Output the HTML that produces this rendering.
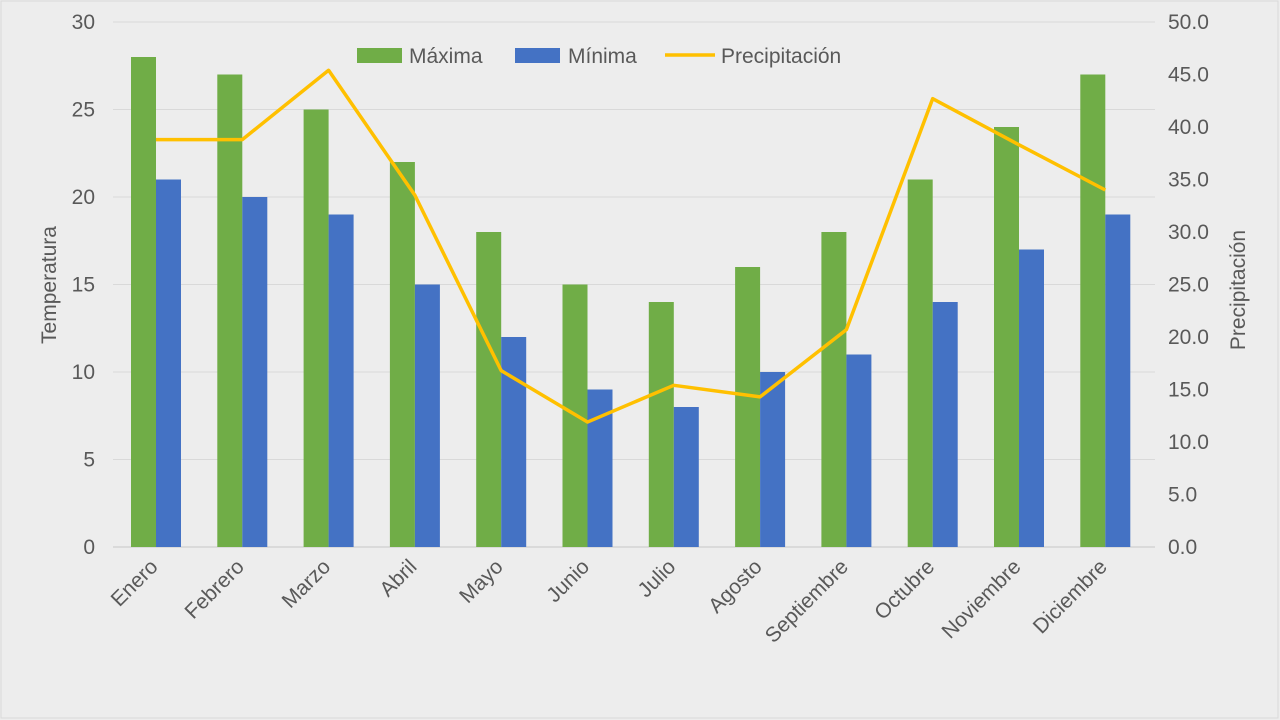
<!DOCTYPE html>
<html><head><meta charset="utf-8"><style>
body{margin:0;background:#ededed;}
svg{display:block;font-family:"Liberation Sans",Arial,sans-serif;}
</style></head><body>
<svg id="c" width="1280" height="720">
<rect x="1" y="1" width="1277" height="717" fill="#ededed" stroke="#d9d9d9"/>
</svg>
<script>
const categories=["Enero","Febrero","Marzo","Abril","Mayo","Junio","Julio","Agosto","Septiembre","Octubre","Noviembre","Diciembre"];
const maxima=[28,27,25,22,18,15,14,16,18,21,24,27];
const minima=[21,20,19,15,12,9,8,10,11,14,17,19];
const precip=[38.8,38.8,45.4,33.5,16.8,11.9,15.4,14.3,20.7,42.7,38.3,34.0];
const leftTicks=[0,5,10,15,20,25,30];
const rightTicks=[0,5,10,15,20,25,30,35,40,45,50];
const svg=document.getElementById('c');
const NS="http://www.w3.org/2000/svg";
const X0=113,X1=1155,Y0=547,Y1=22;
const yL=v=>Y0-(v/30)*(Y0-Y1);
const yR=v=>Y0-(v/50)*(Y0-Y1);
const bw=86.3;
const xc=i=>156+bw*i;
function mk(tag,attrs,txt){const e=document.createElementNS(NS,tag);for(const k in attrs)e.setAttribute(k,attrs[k]);if(txt!==undefined)e.textContent=txt;svg.appendChild(e);return e;}
leftTicks.forEach(t=>{
 const g=mk('line',{x1:X0,x2:X1,y1:yL(t),y2:yL(t),stroke:t===0?'#c8c8c8':'#d9d9d9','stroke-width':1});
 
 
 const l=mk('text',{x:95,y:yL(t)+7,'text-anchor':'end','font-size':21,fill:'#595959'},String(t));
 
 
});
rightTicks.forEach(t=>{
 const l=mk('text',{x:1168,y:yR(t)+7,'font-size':21,fill:'#595959'},t.toFixed(1));
 
 
});
categories.forEach((c,i)=>{
 const b1=mk('rect',{x:xc(i)-25,y:yL(maxima[i]),width:25,height:Y0-yL(maxima[i]),fill:'#70ad47'});
 
 
 const b2=mk('rect',{x:xc(i),y:yL(minima[i]),width:25,height:Y0-yL(minima[i]),fill:'#4472c4'});
 
 
 const ax=xc(i)+3, ay=568;
 const t=mk('text',{x:ax,y:ay,'text-anchor':'end','font-size':21,fill:'#595959',transform:`rotate(-45 ${ax} ${ay})`},c);
 
 
});
const pl=mk('polyline',{points:precip.map((v,i)=>xc(i)+','+yR(v)).join(' '),fill:'none',stroke:'#ffc000','stroke-width':3.5,'stroke-linejoin':'round'});


const yt=mk('text',{x:56,y:285,'text-anchor':'middle','font-size':21,fill:'#595959',transform:'rotate(-90 56 285)'},'Temperatura');


const yt2=mk('text',{x:1245,y:290,'text-anchor':'middle','font-size':21,fill:'#595959',transform:'rotate(-90 1245 290)'},'Precipitación');


const l1=mk('rect',{x:357,y:48,width:45,height:15,fill:'#70ad47'});


const l1t=mk('text',{x:409,y:63,'font-size':21,fill:'#595959'},'Máxima');


const l2=mk('rect',{x:515,y:48,width:45,height:15,fill:'#4472c4'});


const l2t=mk('text',{x:568,y:63,'font-size':21,fill:'#595959'},'Mínima');


const l3=mk('line',{x1:665,x2:715,y1:55,y2:55,stroke:'#ffc000','stroke-width':3.5});


const l3t=mk('text',{x:721,y:63,'font-size':21,fill:'#595959'},'Precipitación');


</script>
</body></html>
